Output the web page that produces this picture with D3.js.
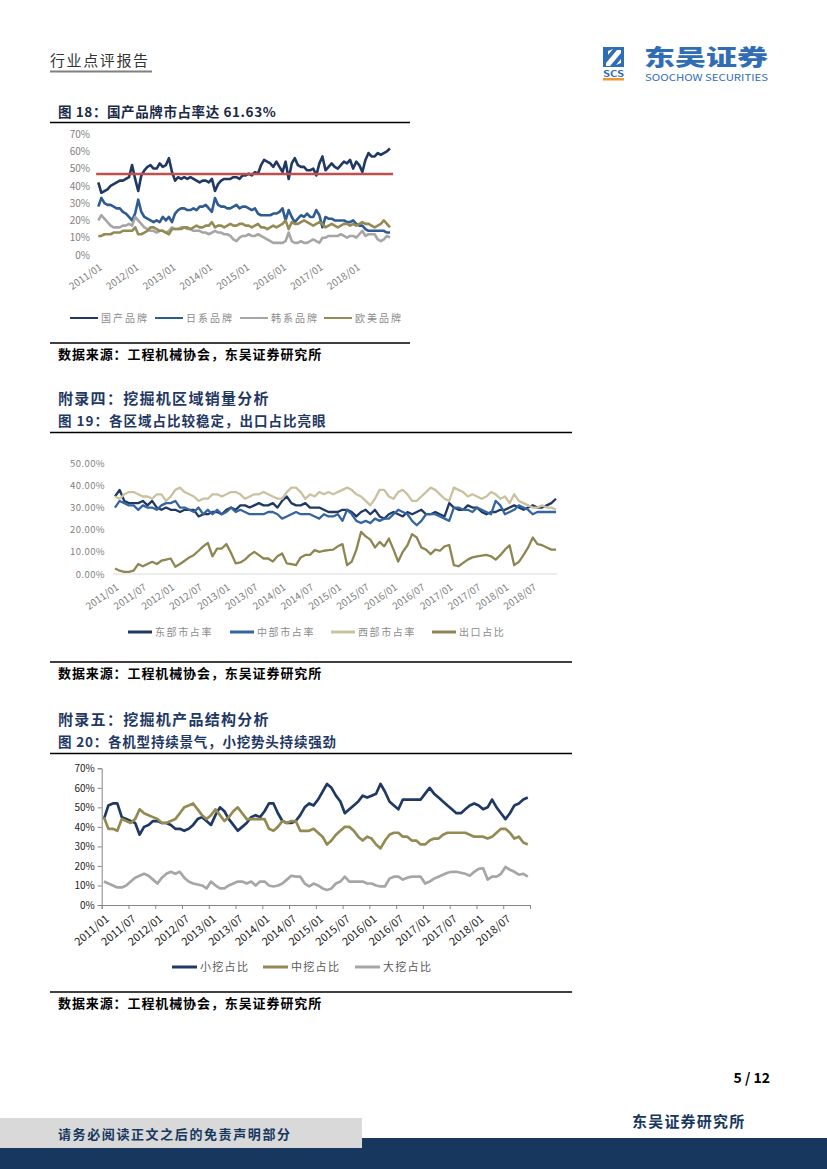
<!DOCTYPE html>
<html><head><meta charset="utf-8">
<script src="https://cdn.jsdelivr.net/npm/d3@7"></script>
<style>
body{margin:0;background:#fff;}
svg{display:block;}
text{font-family:"Noto Sans CJK SC","Liberation Sans",sans-serif;}
</style></head><body>
<svg id="page" width="827" height="1169"></svg>
<script>
// ---------------- DATA ----------------
// Chart 18: brand market share, monthly 2011/01 - 2018/12
const c1TickLabels = ["2011/01","2012/01","2013/01","2014/01","2015/01","2016/01","2017/01","2018/01"];
const c1Names = ["国产品牌","日系品牌","韩系品牌","欧美品牌"];
const c1Domestic = [42,36,37,38,40,41,42,43,43,44,45,52,44,37,46,49,51,52,50,50,53,51,52,56,48,43,45,44,45,44,45,44,43,42,43,43,42,44,37,41,43,44,44,44,45,45,44,46,46,47,46,48,47,52,55,54,53,51,54,51,48,54,44,53,56,52,51,51,49,49,50,46,53,57,49,51,53,51,50,52,54,53,55,50,54,52,48,55,59,57,57,59,58,59,60,61.63];
const c1Japan = [28,33,30,29,29,28,27,27,25,24,22,20,24,32,25,22,21,20,19,20,19,22,20,22,19,24,26,27,27,26,26,27,26,28,28,29,27,25,33,29,28,28,27,27,28,29,27,28,28,27,26,27,24,23,23,23,23,24,24,25,27,20,26,22,19,21,23,22,24,22,22,26,23,16,22,21,21,20,20,20,20,19,19,20,18,17,17,15,14,14,14,14,14,14,13,13];
const c1Korea = [20,23,21,19,17,16,16,16,17,17,18,17,22,20,18,16,15,14,14,13,14,14,13,14,16,15,15,16,16,15,15,14,14,14,13,13,12,13,14,13,13,12,12,11,9,8,10,11,11,12,11,11,12,11,10,9,8,7,7,7,7,8,13,8,7,7,8,7,7,8,9,8,7,10,10,11,11,11,11,12,11,10,11,11,10,12,14,11,12,12,12,9,8,9,11,10];
const c1Europe = [11,11,12,12,12,13,13,13,14,14,14,14,16,12,12,13,14,16,16,15,14,14,13,12,15,15,15,15,16,16,15,16,17,16,16,17,17,19,16,17,17,16,17,18,17,17,18,18,17,17,16,17,18,16,16,15,16,17,16,17,18,20,15,19,18,18,19,20,19,18,17,18,19,18,16,17,18,17,16,17,18,18,17,18,17,18,19,18,18,17,16,17,18,20,18,16];
const c1RefLine = 46.8;

// Chart 19: regional share
const c2TickLabels = ["2011/01","2011/07","2012/01","2012/07","2013/01","2013/07","2014/01","2014/07","2015/01","2015/07","2016/01","2016/07","2017/01","2017/07","2018/01","2018/07"];
const c2Names = ["东部市占率","中部市占率","西部市占率","出口占比"];
const c2East = [35,38,33,32,32,32,33,31,33,30,29,30,29,29,28,29,29,29,26,27,27,28,28,27,29,30,29,31,31,30,31,32,31,31,32,30,33,35,32,31,31,32,30,30,30,29,28,28,28,29,29,28,26,28,29,27,29,26,25,27,28,27,26,28,27,28,29,27,27,28,27,26,32,30,29,29,31,30,30,28,27,28,28,29,29,30,31,30,29,30,31,30,30,31,32,34];
const c2Central = [30,33,32,31,31,29,31,30,30,29,31,32,32,33,30,30,29,28,30,27,29,27,29,27,28,30,28,29,28,27,27,27,27,28,28,27,25,26,27,28,27,27,27,26,25,27,26,26,27,24,29,27,24,23,24,23,25,24,25,25,27,29,28,27,24,22,24,27,27,27,26,25,24,30,30,29,29,28,30,29,28,27,33,31,27,28,29,31,30,29,27,28,28,28,28,28];
const c2West = [35,34,36,37,37,36,35,35,34,36,36,33,35,38,39,37,36,35,33,34,34,36,36,35,36,37,37,36,34,35,36,36,37,36,35,34,34,37,39,39,37,34,36,35,37,36,37,36,37,38,39,38,36,35,33,31,34,38,38,35,34,37,38,36,33,33,35,37,39,38,36,34,33,39,38,37,35,36,35,34,35,37,36,34,35,32,36,33,32,31,30,30,31,30,30,29];
const c2Export = [2.5,1.5,1,1,1.5,4.5,3.5,4.5,5.5,4.5,6,6.5,7,3.3,4.5,6,7.5,8.6,10.5,12.5,14,8,11.5,11.5,13.5,9.5,4.8,5.2,6.5,8.5,10,8.5,7,7,5.6,8,9.3,4.8,4.5,4,7.5,8.6,8.6,10.8,10,10.5,10.8,11,12.5,13.5,4,5.6,11,19,17,15.5,12,14.5,12.5,16,11,5.6,10,13,18,16.5,12,11,9,11,10.5,12.5,13.1,4,3.5,5,6.5,7.5,8,8.3,8.6,8,6.5,8.5,11,13,4,5.5,8.5,12,16.5,13.5,13,12,11,11];

// Chart 20: product structure
const c3TickLabels = ["2011/01","2011/07","2012/01","2012/07","2013/01","2013/07","2014/01","2014/07","2015/01","2015/07","2016/01","2016/07","2017/01","2017/07","2018/01","2018/07"];
const c3Names = ["小挖占比","中挖占比","大挖占比"];
const c3Small = [44,51,52,52,45,44,43,42,36,40,41,43,43,42,42,41,39,39,38,39,41,44,45,43,41,46,50,48,44,41,38,40,42,45,46,45,48,52,52,47,43,42,42,43,46,50,52,51,54,58,62,60,56,53,47,49,51,53,56,55,56,57,62,58,53,51,49,54,54,54,54,54,57,60,57,55,53,51,49,47,47,49,51,52,51,49,50,54,50,47,44,47,51,52,54,55];
const c3Mid = [45,39,39,38,44,43,42,44,49,47,46,45,44,42,42,43,44,47,50,51,52,49,46,44,46,49,46,43,45,48,50,47,44,44,44,44,44,39,38,40,43,42,43,43,38,38,38,39,37,35,31,33,36,38,40,40,38,35,33,35,34,31,29,33,36,37,37,35,35,33,33,31,31,33,34,34,36,37,37,37,37,37,36,35,35,35,34,35,37,39,39,37,34,35,32,31];
const c3Large = [12,11,10,9,9,10,12,14,15,16,15,13,11,14,16,17,16,17,14,12,11,10.5,10,8.5,12,10,8.5,8.5,10,11,12,12,11,12,10,12,12,10,9.5,10,11,13,15,14.5,14.5,11,9.5,11,10,8.5,7.7,8.5,11,12,14.5,12,12,12,12,11,11,10,9.5,9.5,13.5,14.5,14.5,13,14,14.5,14.5,14.5,11,12,13.5,14.5,15.5,16.5,17,17,16.5,16,15,17,18.5,18.8,13,14.5,14.5,16,19.5,18,17,15.5,16,14.5];

// ---------------- PAGE ----------------
const svg = d3.select("#page");
const NAVY = "#1F3864";

// header
svg.append("text").attr("x",50).attr("y",66).attr("font-size",15).attr("fill","#333")
  .attr("letter-spacing",1.6).text("行业点评报告");
svg.append("line").attr("x1",50).attr("x2",152).attr("y1",71.5).attr("y2",71.5)
  .attr("stroke","#808080").attr("stroke-width",2);

// logo
const logo = svg.append("g");
logo.append("rect").attr("x",603).attr("y",47).attr("width",21).attr("height",20).attr("fill","#2F6DB5");
logo.append("path").attr("d","M606,63 L617,50 L621,50 L621,53 L610,66 L606,66 Z").attr("fill","#fff");
logo.append("path").attr("d","M613,49 L608,55 L608,51 Z M616,65 L621,59 L621,63 Z").attr("fill","#fff");
logo.append("text").attr("x",603).attr("y",76.5).attr("font-size",8.5).attr("font-weight","bold")
  .attr("font-family","Liberation Sans").attr("fill","#2F6DB5").attr("textLength",21).attr("lengthAdjust","spacingAndGlyphs").text("SCS");
logo.append("rect").attr("x",603).attr("y",78).attr("width",21).attr("height",2.5).attr("fill","#F0962E");
logo.append("text").attr("x",644).attr("y",65).attr("font-size",22).attr("font-weight",900)
  .attr("fill","#2F6DB5").attr("textLength",124).attr("lengthAdjust","spacingAndGlyphs").text("东吴证券");
logo.append("text").attr("x",645).attr("y",80.5).attr("font-size",9.5).attr("font-family","Liberation Sans")
  .attr("fill","#2F6DB5").attr("textLength",123).attr("lengthAdjust","spacingAndGlyphs").text("SOOCHOW SECURITIES");

function heading(x,y,txt,size,spacing,color){
  svg.append("text").attr("x",x).attr("y",y).attr("font-size",size).attr("font-weight","bold")
    .attr("font-family",'"Liberation Serif","Noto Sans CJK SC",serif')
    .attr("letter-spacing",spacing).attr("fill",color).text(txt);
}
function rule(x1,x2,y,w){
  svg.append("line").attr("x1",x1).attr("x2",x2).attr("y1",y).attr("y2",y)
    .attr("stroke","#000").attr("stroke-width",w);
}
function source(y){
  svg.append("text").attr("x",58).attr("y",y).attr("font-size",13).attr("font-weight","bold")
    .attr("letter-spacing",0.9).attr("fill","#000").text("数据来源：工程机械协会，东吴证券研究所");
}

heading(58,117,"图 18：国产品牌市占率达 61.63%",13.5,0.6,"#1B2A47");
rule(50,410,122.5,1.5);
heading(58,404,"附录四：挖掘机区域销量分析",15,1.3,NAVY);
heading(58,426,"图 19：各区域占比较稳定，出口占比亮眼",13.5,1,NAVY);
rule(50,572,432.5,1.5);
heading(58,725,"附录五：挖掘机产品结构分析",15,1.3,NAVY);
heading(58,747,"图 20：各机型持续景气，小挖势头持续强劲",13.5,0.8,NAVY);
rule(50,572,753.5,1.5);

rule(50,410,343,1.5); source(359);
rule(50,572,662,1.5); source(678);
rule(50,572,992,1.5); source(1008);

function legend(items, y, fontSize, spacing, sw, lw, color){
  const g = svg.append("g");
  items.forEach(it=>{
    g.append("line").attr("x1",it.x).attr("x2",it.x+lw).attr("y1",y).attr("y2",y)
      .attr("stroke",it.c).attr("stroke-width",sw);
    g.append("text").attr("x",it.x+lw+3).attr("y",y).attr("dy","0.36em").attr("font-size",fontSize)
      .attr("letter-spacing",spacing).attr("fill",color).text(it.n);
  });
}
function drawSeries(g,x,y,list,w){
  const line = d3.line().x((d,i)=>x(i)).y(d=>y(d));
  list.forEach(s=>{
    g.append("path").datum(s.v).attr("d",line).attr("fill","none")
      .attr("stroke",s.c).attr("stroke-width",w).attr("stroke-linejoin","round");
  });
}

// ---------------- CHART 18 ----------------
{
  const g = svg.append("g");
  const x = d3.scaleLinear().domain([0,95]).range([98.3,390]);
  const y = d3.scaleLinear().domain([0,70]).range([255,134]);
  const ya = g.append("g").attr("transform","translate(90,0)")
    .call(d3.axisLeft(y).tickValues(d3.range(0,71,10)).tickFormat(d=>d+"%").tickSize(0).tickPadding(0));
  ya.select(".domain").remove();
  ya.selectAll("text").attr("font-size",10).attr("fill","#7F7F7F").attr("font-family","Liberation Sans");
  const xa = g.append("g").attr("transform","translate(0,255)")
    .call(d3.axisBottom(x).tickValues(d3.range(0,85,12)).tickFormat((d,i)=>c1TickLabels[i]).tickSize(0));
  xa.select(".domain").remove();
  xa.selectAll("text").attr("font-size",10).attr("fill","#7F7F7F").attr("font-family","Liberation Sans")
    .attr("text-anchor","end").attr("x",0).attr("y",0).attr("dy","0.35em")
    .attr("transform","translate(2,11) rotate(-35)");
  const cols = [NAVY,"#2F5B93","#A6A6A6","#948A54"];
  drawSeries(g,x,y,[
    {v:c1Domestic,c:cols[0]},{v:c1Japan,c:cols[1]},{v:c1Korea,c:cols[2]},{v:c1Europe,c:cols[3]}],2.6);
  g.append("line").attr("x1",x(-0.7)).attr("x2",x(96)).attr("y1",y(c1RefLine)).attr("y2",y(c1RefLine))
    .attr("stroke","#C0504D").attr("stroke-width",2.5);
  legend([{x:70,n:c1Names[0],c:cols[0]},{x:155,n:c1Names[1],c:cols[1]},{x:240,n:c1Names[2],c:cols[2]},{x:324,n:c1Names[3],c:cols[3]}],
    318,10,2,2,28,"#8C8C8C");
}

// ---------------- CHART 19 ----------------
{
  const g = svg.append("g");
  const x = d3.scaleLinear().domain([0,95]).range([115,556]);
  const y = d3.scaleLinear().domain([0,50]).range([574,463.3]);
  const ya = g.append("g").attr("transform","translate(105,0)")
    .call(d3.axisLeft(y).tickValues(d3.range(0,51,10)).tickFormat(d=>d.toFixed(2)+"%").tickSize(0).tickPadding(0));
  ya.select(".domain").remove();
  ya.selectAll("text").attr("font-size",9.5).attr("fill","#7F7F7F").attr("font-family","Liberation Sans").attr("letter-spacing",0.4);
  g.append("line").attr("x1",113).attr("x2",557).attr("y1",574).attr("y2",574).attr("stroke","#D9D9D9").attr("stroke-width",1);
  const xa = g.append("g").attr("transform","translate(0,574)")
    .call(d3.axisBottom(x).tickValues(d3.range(0,91,6)).tickFormat((d,i)=>c2TickLabels[i]).tickSize(0));
  xa.select(".domain").remove();
  xa.selectAll("text").attr("font-size",10).attr("fill","#7F7F7F").attr("font-family","Liberation Sans")
    .attr("text-anchor","end").attr("x",0).attr("y",0).attr("dy","0.35em")
    .attr("transform","translate(2,12) rotate(-35)");
  const cols = [NAVY,"#3465A0","#C9C29F","#8E8652"];
  drawSeries(g,x,y,[
    {v:c2East,c:cols[0]},{v:c2Central,c:cols[1]},{v:c2West,c:cols[2]},{v:c2Export,c:cols[3]}],2.3);
  legend([{x:128,n:c2Names[0],c:cols[0]},{x:230,n:c2Names[1],c:cols[1]},{x:331,n:c2Names[2],c:cols[2]},{x:432,n:c2Names[3],c:cols[3]}],
    632,10,1.6,3,24,"#8C8C8C");
}

// ---------------- CHART 20 ----------------
{
  const g = svg.append("g");
  const x = d3.scaleLinear().domain([-0.5,95.5]).range([101.7,530]);
  const y = d3.scaleLinear().domain([0,70]).range([905,768.3]);
  const ya = g.append("g").attr("transform","translate(101.7,0)")
    .call(d3.axisLeft(y).tickValues(d3.range(0,71,10)).tickFormat(d=>d+"%").tickSize(4).tickPadding(3));
  ya.selectAll("path,line").attr("stroke","#868686");
  ya.selectAll("text").attr("font-size",10).attr("fill","#222").attr("font-family","Liberation Sans");
  const xa = g.append("g").attr("transform","translate(0,905)")
    .call(d3.axisBottom(x).tickValues(d3.range(-0.5,96,6)).tickFormat("").tickSize(4));
  xa.selectAll("path,line").attr("stroke","#868686");
  const xl = g.append("g").attr("transform","translate(0,905)")
    .call(d3.axisBottom(x).tickValues(d3.range(0,91,6)).tickFormat((d,i)=>c3TickLabels[i]).tickSize(0));
  xl.select(".domain").remove();
  xl.selectAll("text").attr("font-size",11).attr("fill","#222").attr("font-family","Liberation Sans")
    .attr("text-anchor","end").attr("x",0).attr("y",0).attr("dy","0.35em")
    .attr("transform","translate(3,12) rotate(-40)");
  const cols = [NAVY,"#948A54","#A6A6A6"];
  drawSeries(g,x,y,[{v:c3Small,c:cols[0]},{v:c3Mid,c:cols[1]},{v:c3Large,c:cols[2]}],2.7);
  legend([{x:172,n:c3Names[0],c:cols[0]},{x:263,n:c3Names[1],c:cols[1]},{x:355,n:c3Names[2],c:cols[2]}],
    967,11,1.3,3,25,"#595959");
}

// ---------------- FOOTER ----------------
svg.append("text").attr("x",770).attr("y",1083).attr("text-anchor","end").attr("font-size",14)
  .attr("font-weight","bold").attr("font-family","Liberation Serif").attr("fill","#000").text("5 / 12");
svg.append("rect").attr("x",0).attr("y",1138).attr("width",827).attr("height",31).attr("fill","#17375E");
svg.append("rect").attr("x",0).attr("y",1118).attr("width",362).attr("height",30).attr("fill","#D9D9D9");
svg.append("text").attr("x",58).attr("y",1139).attr("font-size",13).attr("font-weight","bold")
  .attr("letter-spacing",1.6).attr("fill","#17375E").text("请务必阅读正文之后的免责声明部分");
svg.append("text").attr("x",632).attr("y",1127).attr("font-size",15).attr("font-weight","bold")
  .attr("letter-spacing",1.2).attr("fill","#17375E").text("东吴证券研究所");
</script>
</body></html>
